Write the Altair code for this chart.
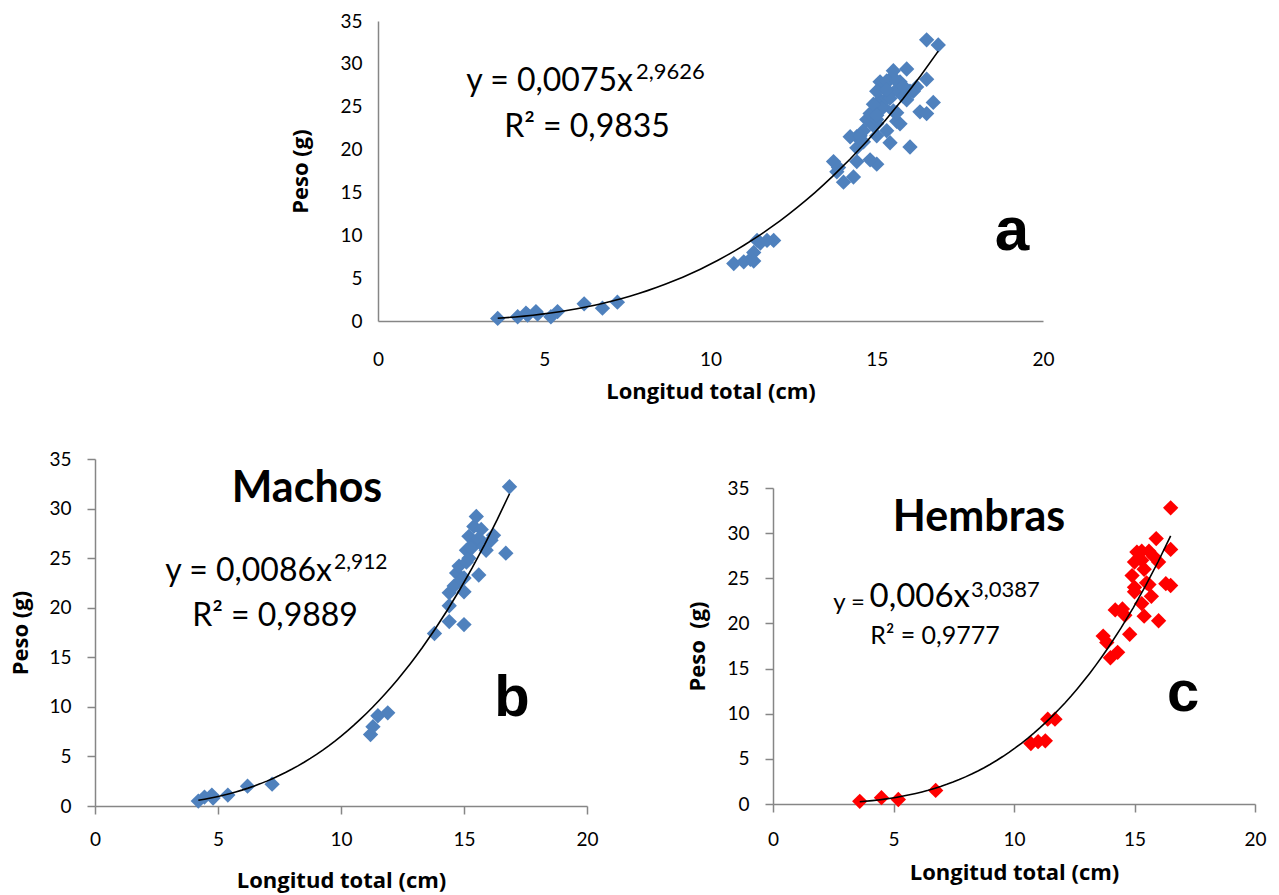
import altair as alt
import pandas as pd

# ---------------- data ----------------
# Machos (panel b)
machos_x = [4.2, 4.45, 4.75, 4.8, 5.4, 6.2, 7.2, 11.2, 11.3, 11.5, 11.9, 13.8, 14.4, 15.0,
            14.4, 14.4, 14.6, 15.0, 14.7, 14.8, 15.1, 15.6, 15.1, 15.2, 15.4, 15.5, 15.7,
            16.1, 16.2, 15.9, 16.7, 16.85, 15.4, 15.0, 15.2, 15.3, 15.6, 15.8, 14.9]
machos_y = [0.5, 0.9, 1.1, 0.8, 1.1, 2.0, 2.2, 7.2, 8.0, 9.1, 9.4, 17.4, 18.6, 18.3,
            20.2, 21.5, 22.2, 21.6, 23.5, 24.2, 24.6, 23.3, 25.8, 27.2, 28.2, 29.2, 27.9,
            26.8, 27.3, 25.8, 25.5, 32.2, 26.5, 23.0, 25.0, 26.0, 27.0, 26.2, 22.8]
# Hembras (panel c)
hembras_x = [3.6, 4.5, 5.2, 6.75, 10.7, 11.0, 11.3, 11.4, 11.7, 13.7, 13.85, 14.0, 14.3,
             14.2, 14.5, 14.8, 14.6, 15.0, 15.1, 15.3, 15.0, 15.4, 15.5, 15.7, 15.4, 15.3,
             15.9, 16.0, 16.0, 16.3, 16.5, 16.5, 16.5, 14.9, 15.0, 15.6, 15.3, 15.6, 15.8]
hembras_y = [0.3, 0.7, 0.5, 1.5, 6.7, 6.9, 7.0, 9.4, 9.4, 18.6, 17.9, 16.2, 16.8,
             21.5, 21.6, 18.8, 20.9, 23.5, 27.9, 28.0, 26.8, 26.0, 24.5, 23.0, 20.8, 22.2,
             29.4, 26.8, 20.3, 24.4, 24.2, 28.2, 32.8, 25.3, 24.0, 24.3, 27.0, 28.0, 27.4]

x_ticks = [0, 5, 10, 15, 20]
y_ticks = [0, 5, 10, 15, 20, 25, 30, 35]
x_title = "Longitud total (cm)"

BLUE = "#4F81BD"
RED = "#FF0000"
GRAY = "#868686"
FONT = "Lato"
TITLE_FONT = "Open Sans"
LETTER_FONT = "Liberation Sans"

df_b = pd.DataFrame({"x": machos_x, "y": machos_y})
df_c = pd.DataFrame({"x": hembras_x, "y": hembras_y})
df_a = pd.concat([df_b, df_c], ignore_index=True)


def txt(text, x, y, size, weight="normal", align="center", font=FONT):
    return alt.Chart(pd.DataFrame({"t": [text]})).mark_text(
        font=font, fontSize=size, fontWeight=weight, align=align,
        baseline="middle", color="black"
    ).encode(x=alt.value(x), y=alt.value(y), text="t:N")


def panel(df, color, w, h, ticks, ytitle, x_lab_pad, x_title_pad, y_lab_pad, y_title_pad, notes):
    xs = alt.Scale(domain=[0, 20], nice=False)
    ys = alt.Scale(domain=[0, 35], nice=False)
    common = dict(grid=False, ticks=ticks, tickSize=8, tickColor=GRAY, domainColor=GRAY,
                  domainWidth=1.5, tickWidth=1.5, labelFont=FONT, labelFontSize=19,
                  labelColor="black", labelFlush=False, titleFont=TITLE_FONT,
                  titleFontSize=22, titleFontWeight="bold", titleColor="black")
    xenc = alt.X("x:Q", scale=xs, axis=alt.Axis(values=x_ticks, title=x_title,
                                                labelPadding=x_lab_pad, titlePadding=x_title_pad,
                                                **common))
    yenc = alt.Y("y:Q", scale=ys, axis=alt.Axis(values=y_ticks, title=ytitle,
                                                labelPadding=y_lab_pad, titlePadding=y_title_pad,
                                                **common))
    pts = alt.Chart(df).mark_point(shape="diamond", filled=True, size=235, color=color,
                                   opacity=1).encode(x=xenc, y=yenc)
    fit = alt.Chart(df).transform_regression("x", "y", method="pow").mark_line(
        color="black", strokeWidth=1.6).encode(x=xenc, y=yenc)
    layers = [pts, fit] + [txt(*n) for n in notes]
    return alt.layer(*layers).properties(width=w, height=h)


def spacer(w, h):
    return alt.Chart(pd.DataFrame({"s": [0]})).mark_point(opacity=0, size=1).encode(
        x=alt.value(0), y=alt.value(0)).properties(width=w, height=h)


notes_a = [
    ("y = 0,0075x", 255, 60, 32, "normal", "right"),
    ("2,9626", 258, 51, 22, "normal", "left"),
    ("R² = 0,9835", 209, 106, 32, "normal", "center"),
    ("a", 634, 210, 62, "bold", "center", LETTER_FONT),
]
notes_b = [
    ("Machos", 212, 30, 43, "bold", "center"),
    ("y = 0,0086x", 237, 112, 32, "normal", "right"),
    ("2,912", 239, 104, 21, "normal", "left"),
    ("R² = 0,9889", 180, 157, 32, "normal", "center"),
    ("b", 417, 240, 58, "bold", "center", LETTER_FONT),
]
notes_c = [
    ("Hembras", 206, 30, 43, "bold", "center"),
    ("y =", 92, 115, 24, "normal", "right"),
    ("0,006x", 197, 109, 33, "normal", "right"),
    ("3,0387", 198, 102, 22, "normal", "left"),
    ("R² = 0,9777", 162, 148, 25, "normal", "center"),
    ("c", 410, 206, 58, "bold", "center", LETTER_FONT),
]

pa = panel(df_a, BLUE, 665, 300, False, "Peso (g)", 29, 12, 16, 27, notes_a)
pb = panel(df_b, BLUE, 492, 347, True, "Peso (g)", 16, 21, 16, 16, notes_b)
pc = panel(df_c, RED, 482, 316, True, "Peso\u00a0 (g)", 18, 13, 16, 17, notes_c)

top = alt.hconcat(spacer(283, 300), pa, spacing=0, bounds="flush")
right = alt.vconcat(spacer(1, 29), pc, spacing=0, bounds="flush")
bottom = alt.hconcat(pb, right, spacing=186, bounds="flush")

# nested concat rows count as zero height under flush bounds, so the spacing
# includes the top panel's 300 px plot height
chart = alt.vconcat(top, bottom, spacing=438, bounds="flush").properties(
    padding={"left": 9, "top": 12, "right": 5, "bottom": 5},
    background="white",
).configure_view(strokeWidth=0)

chart.save("out.html", embed_options={"renderer": "svg", "actions": False})
